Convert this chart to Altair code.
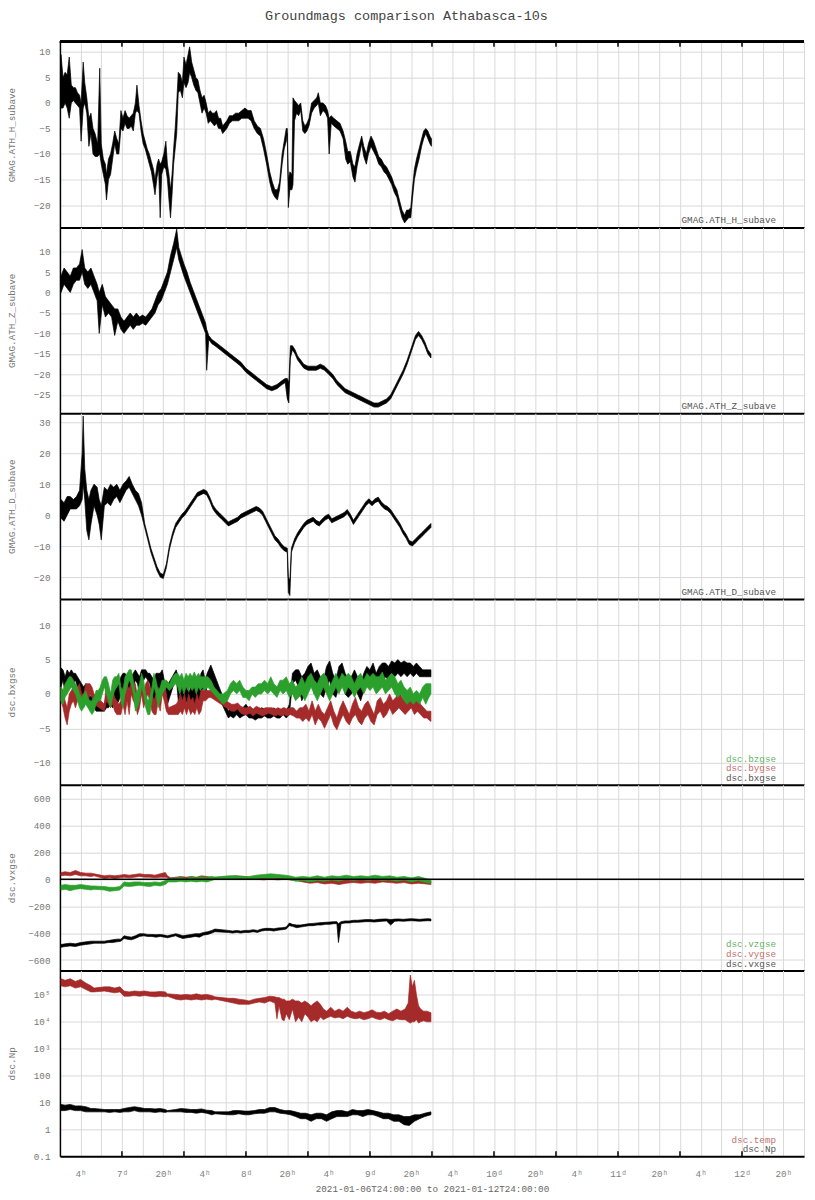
import altair as alt
import pandas as pd

FONT = "Liberation Mono"
W = 745
H = 186

# ---------------- x axis (hours after 2021-01-06 12:00) ----------------
grid_hours = [4, 8, 12, 16, 20, 24, 28, 32, 36, 40, 44, 48, 52, 56, 60, 64, 68, 72,
              76, 80, 84, 88, 92, 96, 100, 104, 108, 112, 116, 120, 124, 128, 132, 136, 140, 144]
label_hours = [4, 12, 20, 28, 36, 44, 52, 60, 68, 76, 84, 92, 100, 108, 116, 124, 132, 140]
label_texts = ["4ʰ", "7ᵈ", "20ʰ", "4ʰ", "8ᵈ", "20ʰ", "4ʰ", "9ᵈ", "20ʰ", "4ʰ", "10ᵈ", "20ʰ",
               "4ʰ", "11ᵈ", "20ʰ", "4ʰ", "12ᵈ", "20ʰ"]
major_tick_hours = [12, 24, 36, 48, 60, 72, 84, 96, 108, 120, 132]

# Each series: sample times (h), lower and upper envelope of the noisy trace.
# ---------------- Panel 1: GMAG.ATH_H_subave ----------------
h_t = [0.2, 0.6, 1.0, 1.4, 1.8, 2.2, 2.6, 3.0, 3.4, 3.8, 4.1, 4.5, 4.8, 5.2, 5.6, 6.0, 6.4, 6.8, 7.3, 7.7,
       8.0, 8.4, 8.8, 9.0, 9.4, 9.8, 10.2, 10.6, 11.0, 11.4, 11.8, 12.2, 12.6, 13.0, 13.4, 13.8, 14.2, 14.6,
       14.9, 15.3, 15.7, 16.1, 16.5, 16.9, 17.3, 17.7, 18.1, 18.4, 18.8, 19.1, 19.4, 19.7, 20.1, 20.5, 20.8,
       21.1, 21.4, 21.7, 22.0, 22.3, 22.6, 22.9, 23.3, 23.7, 24.0, 24.4, 24.8, 25.1, 25.5, 25.9, 26.3, 26.7,
       27.1, 27.5, 27.9, 28.3, 28.7, 29.1, 29.5, 29.9, 30.3, 30.7, 31.1, 31.5, 31.9, 32.3, 32.8, 33.4, 34.0,
       34.6, 35.2, 35.8, 36.4, 37.0, 37.6, 38.2, 38.8, 39.4, 40.0, 40.6, 41.1, 41.6, 42.1, 42.5, 43.0, 43.4,
       43.8, 44.0, 44.2, 44.5, 44.9, 45.1, 45.4, 45.8, 46.2, 46.6, 47.0, 47.4, 47.8, 48.2, 48.7, 49.2, 49.7,
       50.0, 50.4, 50.9, 51.4, 51.8, 52.1, 52.5, 53.0, 53.6, 54.2, 54.8, 55.3, 55.7, 56.2, 56.7, 57.1, 57.5,
       58.0, 58.4, 58.8, 59.3, 59.7, 60.2, 60.7, 61.2, 61.7, 62.2, 62.7, 63.2, 63.7, 64.2, 64.7, 65.2, 65.7,
       66.2, 66.7, 67.1, 67.5, 67.9, 68.2, 68.6, 69.0, 69.5, 70.0, 70.4, 70.8, 71.2, 71.6, 71.9]
h_lo = [-1, -1, 0, -1, -3, 0, 0.5, 0, -0.5, -1, -7.5, -1, 0, -2, -8.5, -6, -10, -10.5, -10.5, -10,
        -12, -14, -16, -19, -15, -14, -11, -8, -10, -10, -5, -5.5, -4, -5, -5, -4.5, -5.5, -2,
        -1.5, -2, -5.5, -8, -9, -10.5, -12, -13.5, -16, -18, -14.5, -13, -22.5, -14, -12.5, -13, -15,
        -19, -22.5, -18, -12, -9, -6, 2, 2.5, 1, 4, 3, 4, 6, 5, 3.5, 2.5, 2,
        0, -2, -1, -2, -4, -3.5, -4, -4.5, -4, -5, -5, -6, -5.5, -5, -4, -3.5, -3.5,
        -3.5, -3, -3, -3, -3.5, -5, -6, -6.5, -9, -12, -15.5, -17.5, -18.5, -19, -17, -12, -9,
        -7.5, -6, -20.5, -17, -17, -16, -3.5, -2, -2.5, -1.5, -5.5, -6, -5.5, -4.5, -2, -1, -0.5,
        0, -2.5, -1.5, -2, -3, -10, -4, -4.5, -5, -5.5, -7, -11, -12, -11.5, -14.5, -15.5, -12.5,
        -10, -8, -10.5, -12, -10, -8.5, -9.5, -10.5, -12, -12.5, -13.5, -14, -15, -16, -17.5, -18.5, -20.5,
        -22.5, -23.5, -23, -22.5, -22.5, -19, -15, -13, -11, -8.5, -7, -6, -7, -8, -8.5]
h_hi = [9.5, 5, 6, 5.5, 9, 3.5, 3, 3, 2, 1.5, 0, 8, 4, 1, -3, -2, -5, -6, -8, 6.8,
        -8, -11, -12, -14, -11, -10, -8, -5.5, -7, -8, -1.5, -3, -1.5, -2.5, -3, -2.5, -2, 0,
        3.5, -0.5, -3.5, -6, -7.5, -9, -10, -11.5, -13, -15, -12, -11, -12, -11.5, -10, -7.5, -12,
        -14, -17, -14, -9, -5, 0, 6, 5.5, 4, 9, 7.5, 9.5, 11, 8, 6.5, 5, 4.5,
        2.5, 1, 1.5, 0, -2, -1.5, -2, -2, -1.5, -3, -3, -4.5, -4, -3.5, -2.5, -2.5, -2,
        -2, -1.5, -1, -1.5, -1.5, -3.5, -4.5, -5, -7, -10, -13.5, -15.5, -17, -17, -15.5, -10, -7.5,
        -5, -5, -15, -13.5, -14, 1, 0.5, 0, -0.5, 0, -3.5, -4.5, -4, -3, 0, 0.5, 1,
        2, 0, 0, -0.5, -1.5, -3, -2.5, -3, -3.5, -4, -5.5, -7.5, -9.5, -9.5, -12, -12.5, -10,
        -8, -6.5, -8.5, -10, -8, -6.5, -7.5, -9, -10.5, -11, -12, -12.5, -13.5, -14.5, -16, -17, -19,
        -21, -22, -21, -21, -20.5, -17, -13, -11, -9, -7, -5.5, -5, -5.5, -6.5, -7]

# ---------------- Panel 2: GMAG.ATH_Z_subave ----------------
z_t = [0.2, 0.8, 1.4, 2.0, 2.6, 3.2, 3.8, 4.3, 4.8, 5.4, 6.0, 6.6, 7.2, 7.6, 8.2, 8.8, 9.4, 10.0, 10.6,
       11.2, 11.8, 12.4, 13.0, 13.6, 14.2, 14.8, 15.4, 16.0, 16.6, 17.2, 17.8, 18.4, 19.0, 19.6, 20.2, 20.8,
       21.4, 22.0, 22.6, 23.0, 23.5, 24.0, 24.6, 25.2, 25.8, 26.4, 27.0, 27.6, 28.2, 28.4, 28.8, 29.4, 30.0,
       31.0, 32.0, 33.0, 34.0, 35.0, 36.0, 37.0, 38.0, 39.0, 40.0, 41.0, 42.0, 43.0, 43.6, 44.0, 44.3, 44.6,
       45.0, 45.5, 46.0, 46.6, 47.2, 48.0, 48.8, 49.6, 50.4, 51.2, 52.0, 52.8, 53.6, 54.4, 55.2, 56.0, 56.8,
       57.6, 58.4, 59.2, 60.0, 60.8, 61.6, 62.4, 63.2, 64.0, 64.8, 65.6, 66.4, 67.2, 68.0, 68.8, 69.4, 70.0,
       70.6, 71.2, 71.8]
z_lo = [0, 2, 1, 0, 2, 3, 3, 5, 2, 1, 2, 0, -2, -10, -3, -6, -5, -6, -10.5,
        -7, -9, -10, -9, -8, -9, -8, -8, -7.5, -8, -7, -6, -5, -3, -2, 0, 2,
        5, 8, 11, 8, 6, 4, 2, 0, -2, -4, -6, -8, -10, -19, -11.5, -12.5, -13,
        -14, -15, -16, -17, -18, -19.5, -20.5, -21.5, -22.5, -23.5, -24, -23.5, -22.5, -22, -26, -27, -16,
        -14, -15, -16.5, -17.5, -18.5, -19, -19, -19, -18.5, -19, -20, -21, -22.5, -23.5, -24.5, -25, -25.5,
        -26, -26.5, -27, -27.5, -28, -28, -27.5, -27, -26, -24, -22, -20, -17.5, -14.5, -11.5, -10.5, -11.5,
        -13, -15, -16]
z_hi = [4, 6, 5, 4, 6, 6, 7, 10.5, 6, 5, 6, 4, 2, 0, 2, -1, -2, -3, -4,
        -4, -6, -7, -6, -5, -6, -5, -6, -5.5, -6, -5, -4, -2, 0, 1, 3, 5,
        9, 12, 15.5, 11, 9, 7, 5, 2.5, 0.5, -1.5, -3.5, -5.5, -7.5, -9, -10.5, -11.5, -12,
        -13, -14, -15, -16, -17, -18.5, -19.5, -20.5, -21.5, -22.5, -23, -22.5, -21.5, -21, -21, -22, -13,
        -13, -14, -15.5, -16.5, -17.5, -18, -18, -18, -17.5, -18, -19, -20, -21.5, -22.5, -23.5, -24, -24.5,
        -25, -25.5, -26, -26.5, -27, -27, -26.5, -26, -25, -23, -21, -19, -16.5, -13.5, -10.5, -9.5, -10.5,
        -12, -14, -15]

# ---------------- Panel 3: GMAG.ATH_D_subave ----------------
d_t = [0.2, 0.8, 1.4, 2.0, 2.6, 3.2, 3.8, 4.3, 4.5, 4.8, 5.2, 5.6, 6.0, 6.6, 7.2, 7.6, 8.0, 8.6, 9.2, 9.8,
       10.4, 11.0, 11.6, 12.2, 12.8, 13.4, 14.0, 14.6, 15.2, 15.8, 16.4, 17.0, 17.6, 18.2, 18.8, 19.4, 20.0,
       20.6, 21.2, 21.8, 22.4, 23.0, 23.6, 24.2, 24.8, 25.4, 26.0, 26.6, 27.2, 27.8, 28.4, 29.0, 29.6, 30.2,
       30.8, 31.4, 32.0, 32.6, 33.2, 33.8, 34.4, 35.0, 35.6, 36.2, 36.8, 37.4, 38.0, 38.6, 39.2, 39.8, 40.4,
       41.0, 41.6, 42.2, 42.8, 43.4, 44.0, 44.2, 44.5, 44.8, 45.4, 46.0, 46.6, 47.2, 47.8, 48.4, 49.0, 49.6,
       50.2, 50.8, 51.4, 52.0, 52.6, 53.2, 53.8, 54.4, 55.0, 55.6, 56.2, 56.8, 57.4, 58.0, 58.6, 59.2, 59.8,
       60.4, 61.0, 61.6, 62.2, 62.8, 63.4, 64.0, 64.6, 65.2, 65.8, 66.4, 67.0, 67.6, 68.2, 68.8, 69.4, 70.0,
       70.6, 71.2, 71.8]
d_lo = [-1, -2, 0, 2, 2, 2, 3, 5, 10, 5, -5, -8, -3, 3, 0, -3, -8, 3, 4, 3,
        5, 6, 4, 6, 8, 9, 7, 5, 3, 0, -4, -8, -12, -15, -18, -20, -20.5,
        -17, -11, -7, -4, -2.5, -1, 0, 1.5, 3, 4.5, 6, 6.5, 7, 6.5, 4.5, 2, 0.5,
        -0.5, -1.5, -2.5, -3.5, -3, -2.5, -2, -1, -0.5, 0, 0.5, 1, 1.5, 1, 0, -2, -4,
        -6, -8, -9, -10.5, -11.5, -12, -25, -26, -12, -9, -7, -5.5, -4, -3, -2.5, -2, -3,
        -3.5, -2.5, -1.5, -1, -2.5, -2, -1.5, -1, -0.5, 0.5, -1, -3, -1.5, 0, 1.5, 3, 4,
        3, 4, 4.5, 3, 2, 1.5, 0.5, -1, -2.5, -4, -6, -7.5, -9.5, -10, -9, -8, -7,
        -6, -5, -4]
d_hi = [5, 4, 6, 6, 5, 6, 8, 20, 32, 15, 8, 5, 8, 10, 9, 5, 3, 9, 8, 10,
        9, 10, 8, 10, 11, 12.5, 10, 8, 7, 4, -2.7, -6.7, -10.7, -13.7, -16.7, -18.7, -19.2,
        -15.7, -9.7, -5.7, -2.7, -1.2, 0.3, 1.3, 2.8, 4.3, 5.8, 7.3, 7.8, 8.3, 7.8, 5.8, 3.3, 1.8,
        0.8, -0.2, -1.2, -2.2, -1.7, -1.2, -0.7, 0.3, 0.8, 1.3, 1.8, 2.3, 2.8, 2.3, 1.3, -0.7, -2.7,
        -4.7, -6.7, -7.7, -9.2, -10.2, -10.7, -20, -21, -10.7, -7.7, -5.7, -4.2, -2.7, -1.7, -1.2, -0.7, -1.7,
        -2.2, -1.2, -0.2, 0.3, -1.2, -0.7, -0.2, 0.3, 0.8, 1.8, 0.3, -1.7, -0.2, 1.3, 2.8, 4.3, 5.3,
        4.3, 5.3, 5.8, 4.3, 3.3, 2.8, 1.8, 0.3, -1.2, -2.7, -4.7, -6.2, -8.2, -8.7, -7.7, -6.7, -5.7,
        -4.7, -3.7, -2.7]

# ---------------- Panel 4: dsc.bxgse / bygse / bzgse ----------------
bx_t = [0.2, 0.6, 1.0, 1.4, 1.8, 2.2, 2.6, 3.0, 3.4, 3.8, 4.2, 4.6, 5.0, 5.4, 5.8, 6.2, 6.6, 7.0, 8.6, 9.0,
        9.4, 9.8, 10.2, 10.6, 11.0, 11.4, 11.8, 12.2, 12.6, 13.0, 13.4, 13.8, 14.2, 14.6, 15.0, 15.4, 15.8,
        16.2, 16.6, 17.0, 17.4, 17.8, 18.2, 18.6, 19.0, 19.4, 19.8, 20.2, 20.6, 22.5, 22.9, 23.3, 23.7, 24.1,
        24.5, 24.9, 25.3, 25.7, 26.1, 26.5, 26.9, 27.3, 27.7, 28.1, 28.5, 29.2, 32.6, 33.0, 33.6, 34.2, 34.8,
        35.4, 36.0, 36.6, 37.2, 37.8, 38.4, 39.0, 39.6, 40.2, 40.8, 41.4, 42.0, 42.6, 43.2, 43.8, 44.4, 45.0,
        45.6, 46.2, 46.8, 47.4, 48.0, 48.6, 49.2, 49.8, 50.4, 51.0, 51.6, 52.2, 52.8, 53.4, 54.0, 54.6, 55.2,
        55.8, 56.4, 57.0, 57.6, 58.2, 58.8, 59.4, 60.0, 60.6, 61.2, 61.8, 62.4, 63.0, 63.6, 64.2, 64.8, 65.4,
        66.0, 66.6, 67.2, 67.8, 68.4, 69.0, 69.6, 70.2, 70.8, 71.4, 71.8]
bx_lo = [1, 2, 0, 1, 1.5, 2, 1.5, 2, 1, 0, -1, -1, -0.5, -1.5, -2, -1.5, -2, -2.5, -2.5, -2,
         -2, -1.5, -2, -1, -1.5, -1, 0, 0.5, 1, 0.5, 1, 0, 1, 2, 1.5, 0, 2,
         2, 2.5, 2, 1.5, 0, -1, 0, 1, 0, 1.5, 0, -2, 2.5, -1, -2, -1, -2,
         -1, -2, -2.5, -1, -2, -1, -2, 0, 1, 0, 1, 2, -3.5, -3.2, -3.5, -3, -3.5,
         -3.2, -3, -3.5, -3.5, -3.8, -3.5, -3.5, -3.2, -3.5, -3.5, -3.2, -3.5, -3.5, -3, -3.5, -3, 1.5,
         2, 1, -1, 0, 1, 2, 0, 1, 0, -0.5, 1, 2, 0, -0.5, 1, 2, 0,
         -0.5, 0, 1, 0, -1, 0.5, 1.5, 1, 2, 0.5, 2, 1.5, 2.5, 2, 3, 2.5, 3,
         2.5, 3, 2.5, 3, 2.5, 3, 2.5, 2.5, 2.5, 2.5, 2.5]
bx_hi = [3.8, 3.5, 2.5, 3.5, 3, 3.5, 3, 3, 2.5, 2, 1.5, 1, 1.5, 0.5, -0.5, 0, -1, -1.5, -1.5, 0,
         0.5, 0, 0.5, 1.5, 1, 1.5, 2.5, 3, 3, 2.5, 3, 2.5, 3, 3.5, 3, 2.5, 3.5,
         3.5, 3.5, 3, 3, 2.5, 2, 3, 3, 3, 3.5, 2, 1, 3.5, 2.5, 1, 2, 1,
         2.5, 0, 1, 2, 1.5, 2.5, 1, 3, 3.5, 2, 3, 4.2, -2.5, -2, -2.2, -2, -2.5,
         -2, -1.5, -2.2, -2.5, -2.5, -2.5, -2, -2.2, -2.5, -2.5, -2, -2.5, -2.5, -2, -2.5, -1.5, 3,
         3.5, 3.5, 2.5, 3, 4, 4.5, 3, 3.5, 2.5, 2, 4, 4.8, 3, 2, 4, 4.5, 3,
         2, 2.5, 3.5, 2.5, 1.5, 3, 4, 3.5, 4.5, 3, 4, 4.5, 4.5, 4, 4.8, 4.5, 5,
         4.5, 4.8, 4.5, 4.5, 4, 4.5, 4, 3.5, 3.5, 3.5, 3.5]
by_t = [0.2, 0.6, 1.0, 1.4, 1.8, 2.2, 2.6, 3.0, 3.4, 3.8, 4.2, 4.6, 5.0, 5.4, 5.8, 6.2, 6.6, 8.6, 9.0, 9.4,
        9.8, 10.2, 10.6, 11.0, 11.4, 11.8, 12.2, 12.6, 13.0, 13.4, 13.8, 14.2, 14.6, 15.0, 15.4, 15.8, 16.2,
        16.6, 17.0, 17.4, 17.8, 18.2, 18.6, 19.0, 19.4, 19.8, 20.2, 20.6, 21.0, 22.5, 22.9, 23.3, 23.7, 24.1,
        24.5, 24.9, 25.3, 25.7, 26.1, 26.5, 26.9, 27.3, 27.7, 28.2, 28.8, 29.2, 32.6, 33.2, 33.8, 34.4, 35.0,
        35.6, 36.2, 36.8, 37.4, 38.0, 38.6, 39.2, 39.8, 40.4, 41.0, 41.6, 42.2, 42.8, 43.4, 44.0, 44.6, 45.2,
        45.8, 46.4, 47.0, 47.6, 48.2, 48.8, 49.4, 50.0, 50.6, 51.2, 51.8, 52.4, 53.0, 53.6, 54.2, 54.8, 55.4,
        56.0, 56.6, 57.2, 57.8, 58.4, 59.0, 59.6, 60.2, 60.8, 61.4, 62.0, 62.6, 63.2, 63.8, 64.4, 65.0, 65.6,
        66.2, 66.8, 67.4, 68.0, 68.6, 69.2, 69.8, 70.4, 71.0, 71.8]
by_lo = [-1, -2, -3.5, -4.5, -2.5, -1.5, -1, -2, -1, -0.5, -1.5, -2, 0, -1, 0, -0.5, -1.5, -2.5, -1, -1.5,
         -2, -1.5, -2.5, -3, -3, -3, -1.5, -3, -1, -3, 0, -1, -1.5, -3, -2, 0, -2,
         -1, 0, -1, -2.5, -3, -3, -1, -2.5, 0, -1, -2.5, -3, -3, -3, -2.5, -3, -2,
         -3, -2, -3, -2.5, -3, -2, -3, -2.5, -1, -1, -0.5, -0.5, -2.2, -2.5, -2.5, -2.2, -2.8,
         -3, -3, -2.8, -3.2, -2.8, -3, -3.2, -3, -2.8, -3, -3.2, -3, -3.2, -3, -3.2, -3, -3.2,
         -3.5, -3.5, -4, -3.5, -4, -3, -4.5, -3.5, -4, -5, -4, -3, -4.5, -5.2, -4, -3, -4,
         -4.5, -3.5, -3, -4, -4.5, -3.5, -3, -4, -4.5, -3, -2.5, -3.5, -3, -2, -3, -2.5, -2,
         -2.5, -3, -2.5, -2, -3, -2.5, -3, -3.5, -3.5, -4]
by_hi = [1, 0.5, -1, -2, 0, 0.5, 1, 0, 1, 1.5, 0, 0, 1.5, 1.5, 1.5, 1, 0, -1.5, 1.5, 1,
         0, 0.5, -0.5, -1, -1.5, -1, 1, 0, 1.5, 0.5, 2, 1.5, 1.5, -0.5, 1, 2, 0,
         1.5, 2, 1, 0, -1, 0, 1, 0, 2, 1.5, 0, -2, -1.5, -1, 0, -1, 0,
         -1.5, 0, -1, -0.5, -1.5, 0, -1, 0.5, 0.5, 0.5, 0.5, 0.5, -1.2, -1.5, -1.5, -1.3, -1.8,
         -2, -2, -1.8, -2.2, -1.8, -2, -2.2, -2, -2, -2, -2.2, -2, -2.2, -2, -2.2, -2, -2,
         -2.5, -2, -2, -1.5, -2.5, -1, -2.5, -1.5, -2.5, -3, -2, -1, -2.5, -3.5, -2, -1, -2,
         -3, -1.5, -0.5, -2, -2.5, -1.5, -1, -2, -3, -1, -0.5, -1.5, -1, 0, -1, -0.5, 0.5,
         -0.5, -1, -0.5, 0, -1, -0.5, -1.5, -2, -2.5, -2.5]
bz_t = [0.2, 0.6, 1.0, 1.4, 1.8, 2.2, 2.6, 3.0, 3.4, 3.8, 4.2, 4.6, 5.0, 5.4, 5.8, 6.2, 6.6, 7.0, 7.4, 7.8,
        8.2, 8.6, 9.0, 9.4, 9.8, 10.2, 10.6, 11.0, 11.4, 11.8, 12.2, 12.6, 13.0, 13.4, 13.8, 14.2, 14.6,
        15.0, 15.4, 15.8, 16.2, 16.6, 17.0, 17.4, 17.8, 18.2, 18.6, 19.0, 19.4, 19.8, 20.2, 20.6, 21.2, 21.8,
        22.4, 22.8, 23.2, 23.6, 24.0, 24.4, 24.8, 25.2, 25.6, 26.0, 26.4, 26.8, 27.2, 27.6, 28.0, 28.6, 29.2,
        29.8, 30.4, 31.0, 31.6, 32.4, 33.0, 33.6, 34.2, 34.8, 35.4, 36.0, 36.6, 37.2, 37.8, 38.4, 39.0, 39.6,
        40.2, 40.8, 41.4, 42.0, 42.6, 43.2, 43.8, 44.4, 45.0, 45.6, 46.2, 46.8, 47.4, 48.0, 48.6, 49.2, 49.8,
        50.4, 51.0, 51.6, 52.2, 52.8, 53.4, 54.0, 54.6, 55.2, 55.8, 56.4, 57.0, 57.6, 58.2, 58.8, 59.4, 60.0,
        60.6, 61.2, 61.8, 62.4, 63.0, 63.6, 64.2, 64.8, 65.4, 66.0, 66.6, 67.2, 67.8, 68.4, 69.0, 69.6, 70.2,
        70.8, 71.4, 71.8]
bz_lo = [-1, -1.5, -0.5, 0, 0.5, 1, 0.5, 0, -1, -2, -2.5, -2, -1.5, -2, -2.5, -3, -2.5, -1.5, -1, -1,
         0, 1, 0, -1, -2, -0.5, 0.5, 1, 1.5, -1, -2, 0, 1, 2, 1.5, 0, -2.5,
         -2, -1, 1, 0, -2, -3, -3, -1, 1, 0, -2, -1, 0, 0.5, 1, 0.5, 1,
         1.5, 1, 0, 1, 0, 1, 0.5, 1, 0.5, 1, 0, 1, 0.5, 1, 0.5, 1, 0.5,
         0, -0.5, -1, -1.5, -1, 0, 0.5, 0, 0.5, -0.5, -0.5, -1, 0, -0.5, 0, 0, 0.5,
         0, 0.5, 0, -0.5, 0.5, 0, 0.5, -0.5, 0, -1, -0.5, 0, -1, 0, 1, 0, -1,
         0, 1, 0, -1, 0, 1, 0, 1, 0, 1, 0.5, -0.5, 0.5, 1, 0, 1, 0.5,
         1, 0, 0.5, 1, 0, 0.5, 1, 0, -0.5, 0, -1, -1.5, -1, -1.5, -1, -1.5, -0.5,
         -1.5, -0.5, 0]
bz_hi = [1, 0.5, 1.5, 2, 2.5, 2.5, 2, 1.5, 1, 0, -0.5, 0, 0.5, -0.5, -1, -1, -0.5, 0.5, 0.5, 1,
         2, 2.5, 2.5, 1.5, 0, 2, 2.5, 2.5, 3, 1, 0.5, 2.5, 3, 3.5, 3.5, 2, 0,
         0.5, 1.5, 3, 2, 0, -1, -0.5, 1, 3, 2, 0.5, 1, 2, 2, 2, 1.5, 2.5,
         3, 3, 2.5, 3, 2, 3, 2.5, 3, 2.5, 3.2, 2.5, 3, 2.5, 2.5, 2.5, 2.5, 2,
         1, 0.5, 0, 0, 0.5, 1.5, 2, 1.5, 2, 1, 0.5, 0.5, 1, 1, 1.5, 1.5, 2,
         1.5, 2.5, 1.5, 1, 2, 2, 2.5, 1.5, 2, 1, 1.5, 2.5, 1.5, 2.5, 3, 2, 1.5,
         2.5, 3, 2.5, 1, 2, 3, 2, 3, 2.5, 3, 2.5, 1.5, 2.5, 3, 2, 3, 2.5,
         3, 2.5, 2.5, 3.2, 2, 2.5, 3, 2.5, 1.5, 2, 1, 0.5, 1, 0, 0.5, 0, 1,
         1.5, 1.5, 1.5]

# ---------------- Panel 5: dsc.vxgse / vygse / vzgse ----------------
vx_t = [0.2, 1.0, 2.0, 3.0, 4.0, 5.0, 6.0, 6.6, 8.6, 9.4, 10.2, 11.0, 11.8, 12.4, 13.0, 13.8, 14.6, 15.4,
        16.2, 17.0, 17.8, 18.6, 19.4, 20.2, 20.8, 22.4, 23.0, 23.8, 24.6, 25.4, 26.2, 27.0, 27.8, 28.6, 29.4,
        30.0, 32.6, 33.4, 34.2, 35.0, 35.8, 36.6, 37.4, 38.2, 39.0, 39.8, 40.6, 41.4, 42.2, 43.0, 43.8, 44.4,
        45.0, 45.8, 46.6, 47.4, 48.2, 49.0, 49.8, 50.6, 51.4, 52.2, 53.0, 53.6, 53.9, 54.4, 55.2, 56.0, 56.8,
        57.6, 58.4, 59.2, 60.0, 60.8, 61.6, 62.4, 63.2, 64.0, 64.8, 65.6, 66.4, 67.2, 68.0, 68.8, 69.6, 70.4,
        71.2, 71.8]
vx_lo = [-505, -500, -495, -500, -490, -485, -480, -475, -475, -470, -470, -465, -460, -440, -445, -450, -440,
         -425, -420, -425, -425, -430, -425, -430, -435, -420, -430, -440, -435, -430, -425, -430, -415, -410,
         -400, -390, -395, -400, -395, -400, -395, -395, -390, -395, -385, -380, -380, -385, -378, -375, -370,
         -345, -350, -360, -355, -350, -345, -345, -340, -340, -335, -335, -330, -330, -470, -330, -325, -325,
         -320, -320, -318, -315, -315, -318, -315, -312, -310, -340, -312, -310, -312, -310, -308, -310, -312,
         -310, -308, -310]
vx_hi = [-485, -480, -475, -480, -470, -465, -460, -460, -460, -455, -450, -445, -445, -420, -425, -430, -420,
         -405, -405, -410, -410, -412, -410, -415, -420, -405, -410, -420, -415, -410, -405, -405, -395, -390,
         -380, -370, -380, -385, -380, -385, -380, -380, -375, -380, -370, -365, -365, -368, -362, -360, -355,
         -325, -335, -340, -340, -335, -330, -328, -325, -322, -320, -318, -315, -315, -330, -315, -310, -310,
         -305, -305, -302, -300, -300, -302, -298, -296, -295, -300, -296, -295, -298, -295, -293, -295, -298,
         -295, -293, -295]
vy_t = [0.2, 1.0, 2.0, 3.0, 4.0, 5.0, 6.0, 6.6, 8.6, 9.6, 10.6, 11.6, 12.4, 13.4, 14.4, 15.4, 16.4, 17.4,
        18.4, 19.4, 20.4, 20.8, 21.4, 22.4, 23.4, 24.4, 25.4, 26.4, 27.4, 28.4, 29.4, 30.0, 32.6, 34.0, 35.8,
        36.6, 38.0, 39.4, 40.8, 42.2, 43.6, 44.4, 45.6, 47.0, 48.4, 49.8, 51.2, 52.6, 54.0, 55.4, 56.8, 58.2,
        59.6, 61.0, 62.4, 63.8, 65.2, 66.6, 68.0, 69.4, 70.8, 71.8]
vy_lo = [25, 30, 25, 35, 25, 25, 20, 25, 5, 10, 5, 10, 15, 10, 15, 20, 15, 15,
         10, 15, 15, 10, 0, -5, 0, -5, 0, 0, 5, 0, 0, 5, 5, 5, 5,
         0, 0, -5, 0, -5, 0, -5, -10, -20, -30, -25, -35, -30, -40, -30, -25, -30,
         -25, -30, -20, -25, -30, -25, -35, -30, -35, -40]
vy_hi = [50, 55, 50, 65, 50, 45, 45, 40, 25, 30, 25, 30, 35, 30, 35, 40, 35, 35,
         30, 40, 50, 25, 10, 15, 20, 15, 20, 15, 25, 20, 15, 15, 20, 25, 20,
         15, 15, 10, 15, 10, 15, 10, 5, 5, 0, 0, -5, 0, -5, 0, 5, 0,
         0, 0, 5, 0, 0, 5, -5, 0, -10, -15]
vz_t = [0.2, 1.0, 2.0, 3.0, 4.0, 5.0, 6.0, 6.6, 8.6, 9.6, 10.6, 11.6, 12.4, 13.4, 14.4, 15.4, 16.4, 17.4,
        18.4, 19.4, 20.4, 21.0, 22.4, 23.4, 24.4, 25.4, 26.4, 27.4, 28.4, 29.4, 30.0, 32.6, 34.0, 35.8, 36.6,
        38.0, 39.4, 40.8, 42.2, 43.6, 44.4, 45.6, 47.0, 48.4, 49.8, 51.2, 52.6, 54.0, 55.4, 56.8, 58.2, 59.6,
        61.0, 62.4, 63.8, 65.2, 66.6, 68.0, 69.4, 70.8, 71.8]
vz_lo = [-80, -75, -85, -75, -70, -75, -80, -75, -80, -90, -85, -80, -50, -55, -50, -45, -50, -55,
         -45, -50, -40, -20, -20, -15, -20, -15, -20, -15, -20, -10, 0, 5, 0, 5, 0,
         5, 10, 5, 10, 5, 0, -15, -10, -20, -10, -15, -5, -15, 0, -10, 0, -10,
         0, -10, -5, -15, -5, -20, -10, -25, -30]
vz_hi = [-45, -40, -45, -45, -40, -45, -50, -50, -55, -60, -60, -55, -20, -25, -20, -20, -25, -25,
         -20, -25, -10, 5, 10, 15, 5, 20, 10, 20, 10, 20, 15, 25, 25, 20, 20,
         30, 35, 40, 35, 30, 25, 15, 20, 15, 25, 15, 25, 20, 30, 20, 25, 20,
         30, 20, 25, 15, 20, 10, 20, 5, -5]

# ---------------- Panel 6: dsc.Np / dsc.temp ----------------
np_t = [0.2, 1.0, 2.0, 3.0, 4.0, 5.0, 6.0, 6.6, 8.6, 9.6, 10.6, 11.6, 12.4, 13.4, 14.4, 15.4, 16.4, 17.4,
        18.4, 19.4, 20.4, 20.8, 22.4, 23.4, 24.4, 25.4, 26.4, 27.4, 28.4, 29.4, 30.0, 32.6, 33.6, 34.6, 35.8,
        36.6, 37.6, 38.6, 39.6, 40.6, 41.6, 42.6, 43.6, 44.6, 45.6, 46.6, 47.6, 48.6, 49.6, 50.6, 51.6, 52.6,
        53.6, 54.6, 55.6, 56.6, 57.6, 58.6, 59.6, 60.6, 61.6, 62.6, 63.6, 64.6, 65.6, 66.6, 67.6, 68.6, 69.6,
        70.6, 71.8]
np_lo = [5, 5, 5.5, 5, 5, 4.5, 4.5, 4.5, 4.5, 4.3, 4.5, 4.3, 4.5, 4.5, 5, 4.5, 4.5, 4.5,
         4.3, 4.5, 4.3, 4.5, 4.5, 4.5, 4.3, 4.3, 4, 4.3, 4, 3.5, 3.8, 3.5, 3.5, 3.8, 3.5,
         3.5, 3.8, 4, 4, 4.5, 4.5, 4, 3.8, 3.5, 3, 2.5, 2.5, 2, 2.5, 2.5, 2, 2.5,
         3, 3, 3, 3.5, 3.5, 3, 3.5, 3.5, 3, 2.5, 2.5, 2, 2, 1.5, 1.4, 2, 2.5,
         3, 3.5]
np_hi = [8.5, 8, 8.5, 7.5, 7.5, 7, 6, 6, 5.5, 5.5, 5.5, 5.5, 6, 6.5, 7, 6.5, 6, 6,
         5.8, 6, 5.5, 5, 5.5, 6, 5.8, 5.5, 5.5, 5.8, 5.2, 5, 4.5, 4.5, 5, 5, 4.8,
         4.8, 5, 5.5, 5.5, 6.5, 6.5, 5.5, 5, 5, 4.5, 4, 4, 3.5, 4, 4, 3.5, 4.5,
         5, 5, 4.5, 5.5, 5, 5, 5.5, 5, 4.5, 4, 4, 3.5, 3.5, 3, 3, 3.5, 3.5,
         4, 4.5]
tp_t = [0.2, 1.0, 2.0, 3.0, 4.0, 5.0, 6.0, 6.6, 8.6, 9.6, 10.6, 11.6, 12.4, 13.4, 14.4, 15.4, 16.4, 17.4,
        18.4, 19.4, 20.4, 20.8, 22.4, 23.4, 24.4, 25.4, 26.4, 27.4, 28.4, 29.4, 30.0, 32.6, 33.6, 34.6, 35.8,
        36.6, 37.6, 38.6, 39.6, 40.6, 41.6, 42.0, 42.4, 43.0, 43.4, 43.8, 44.4, 45.0, 45.6, 46.2, 46.8, 47.4,
        48.0, 48.6, 49.2, 49.8, 50.4, 51.0, 51.6, 52.4, 53.2, 54.0, 54.8, 55.6, 56.4, 57.2, 58.0, 58.8, 59.6,
        60.4, 61.2, 62.0, 62.8, 63.6, 64.4, 65.2, 66.0, 66.8, 67.4, 67.8, 68.2, 68.6, 69.0, 69.4, 69.8, 70.4,
        71.0, 71.8]
tp_lo = [2.2e5, 2.0e5, 2.2e5, 1.8e5, 2.0e5, 1.6e5, 1.3e5, 1.3e5, 1.4e5, 1.3e5, 1.2e5, 1.3e5, 9e4, 9e4,
         9.5e4, 9e4, 9.5e4, 9e4, 8.5e4, 9e4, 8.5e4, 9e4, 7e4, 6.5e4, 7e4, 6.5e4, 7e4, 6.5e4, 7e4, 6.5e4,
         7e4, 5.5e4, 5e4, 4.5e4, 4.5e4, 4.5e4, 5e4, 5.5e4, 5e4, 6e4, 5e4, 1.3e4, 4e4, 1.2e4, 1.1e4, 2e4,
         1.2e4, 3e4, 1.0e4, 1.5e4, 1.0e4, 2e4, 1.5e4, 1.0e4, 1.2e4, 1.0e4, 1.5e4, 1.2e4, 1.4e4, 1.6e4,
         1.4e4, 1.5e4, 1.3e4, 1.6e4, 1.4e4, 1.3e4, 1.4e4, 1.2e4, 1.3e4, 1.5e4, 1.3e4, 1.2e4, 1.4e4, 1.2e4,
         1.1e4, 1.3e4, 1.2e4, 1.2e4, 1.0e4, 9e3, 1.0e4, 1.0e4, 1.2e4, 9e3, 1.0e4, 1.1e4, 1.0e4, 1.0e4]
tp_hi = [4.0e5, 3.5e5, 4.0e5, 3.2e5, 3.8e5, 2.8e5, 2.2e5, 1.8e5, 2.0e5, 2.0e5, 1.8e5, 2.0e5, 1.4e5, 1.3e5,
         1.4e5, 1.35e5, 1.4e5, 1.3e5, 1.3e5, 1.35e5, 1.3e5, 1.1e5, 1.05e5, 1.0e5, 1.05e5, 1.0e5, 1.1e5, 1.0e5,
         1.05e5, 9.5e4, 8.5e4, 7.5e4, 7.5e4, 7e4, 6.5e4, 6e4, 7e4, 7.5e4, 8e4, 9e4, 8.5e4, 8e4, 8e4, 7e4,
         7e4, 6e4, 6e4, 7e4, 6e4, 6e4, 5e4, 6e4, 5e4, 4e4, 5e4, 6e4, 4.5e4, 3e4, 2.5e4, 3.5e4, 2.5e4, 3e4,
         2.5e4, 3.5e4, 2.5e4, 2.2e4, 2.5e4, 2.2e4, 2.4e4, 2.8e4, 2.3e4, 2.2e4, 2.5e4, 2.0e4, 2.5e4, 3e4,
         2.5e4, 3e4, 5e4, 5.5e5, 2e5, 3.5e5, 1e5, 4e4, 3e4, 2.5e4, 2.5e4, 2.2e4]

BLACK = "#000000"
RED = "#a52a2a"
GREEN = "#2ca02c"
GRID = "#d9d9d9"


def label_chain(values, texts):
    expr = "''"
    for val, txt in zip(reversed(values), reversed(texts)):
        expr = f"abs(datum.value - {val}) < {abs(val) * 1e-3 + 1e-9} ? '{txt}' : " + expr
    return expr


x_label_expr = label_chain(label_hours, label_texts)


def panel(series, ydomain, yvals, ytitle, legend_texts, legend_colors,
          log=False, ylabels=None, bottom=False, top=False, zero=False):
    xaxis = alt.Axis(values=grid_hours, grid=True, gridColor=GRID, gridWidth=1,
                     ticks=False, domain=True, domainColor="#000000", domainWidth=2,
                     labels=bottom, labelExpr=x_label_expr, labelFont=FONT, labelFontSize=9.3,
                     labelColor="#808080", labelPadding=13, labelFlush=False, labelOverlap=False,
                     title="2021-01-06T24:00:00 to 2021-01-12T24:00:00" if bottom else None,
                     titleFont=FONT, titleFontSize=9.3, titleFontWeight="normal",
                     titleColor="#666666", titlePadding=6)
    yaxis_kw = dict(values=yvals, grid=True, gridColor=GRID, gridWidth=1, ticks=False,
                    domain=True, domainColor="#000000", domainWidth=1.5,
                    labelFont=FONT, labelFontSize=9.3, labelColor="#777777", labelPadding=10,
                    labelOverlap=False, labelFlush=False,
                    minExtent=34, maxExtent=34, title=ytitle, titleFont=FONT, titleFontSize=9.3,
                    titleFontWeight="normal", titleColor="#777777", titlePadding=9)
    if ylabels is not None:
        yaxis_kw["labelExpr"] = label_chain(yvals, ylabels)
    yaxis = alt.Axis(**yaxis_kw)
    if log:
        yscale = alt.Scale(domain=ydomain, type="log", nice=False)
    else:
        yscale = alt.Scale(domain=ydomain, nice=False, zero=False)
    xscale = alt.Scale(domain=[0, 144], nice=False, zero=False)

    layers = []
    for ts, lo, hi, col in series:
        df = pd.DataFrame({"t": ts, "lo": lo, "hi": hi})
        layers.append(alt.Chart(df).mark_area(
            color=col, stroke=col, strokeWidth=0.7, opacity=1, clip=True, interpolate="linear"
        ).encode(
            x=alt.X("t:Q", scale=xscale, axis=xaxis),
            y=alt.Y("lo:Q", scale=yscale, axis=yaxis),
            y2=alt.Y2("hi:Q"),
        ))
    if zero:
        zdf = pd.DataFrame({"lo": [0]})
        layers.append(alt.Chart(zdf).mark_rule(color="#000000", strokeWidth=1.5).encode(
            y=alt.Y("lo:Q", scale=yscale, axis=yaxis)))
    n = len(legend_texts)
    for i, (txt, col) in enumerate(zip(legend_texts, legend_colors)):
        ypix = H - 7 - 9.6 * (n - 1 - i)
        layers.append(
            alt.Chart(pd.DataFrame({"txt": [txt]})).mark_text(
                align="right", baseline="middle", font=FONT, fontSize=9.3, color=col
            ).encode(text="txt:N", x=alt.value(W - 28), y=alt.value(ypix))
        )
    tdf = pd.DataFrame({"t": major_tick_hours})
    if bottom:
        layers.append(alt.Chart(tdf).mark_rule(color="#000000", strokeWidth=1.5).encode(
            x=alt.X("t:Q", scale=xscale, axis=xaxis), y=alt.value(H - 5), y2=alt.value(H)))
    if top:
        layers.append(alt.Chart(tdf).mark_rule(color="#000000", strokeWidth=1.5).encode(
            x=alt.X("t:Q", scale=xscale, axis=xaxis), y=alt.value(0), y2=alt.value(5)))
        layers.append(alt.Chart(tdf).mark_rule(color="#000000", strokeWidth=2).encode(
            x=alt.value(0), x2=alt.value(W), y=alt.value(0)))
    return alt.layer(*layers).properties(width=W, height=H)


p1 = panel([(h_t, h_lo, h_hi, BLACK)], [-24.4, 12],
           [-20, -15, -10, -5, 0, 5, 10], "GMAG.ATH_H_subave",
           ["GMAG.ATH_H_subave"], ["#555555"], top=True)
p2 = panel([(z_t, z_lo, z_hi, BLACK)], [-29.5, 15.9],
           [-25, -20, -15, -10, -5, 0, 5, 10], "GMAG.ATH_Z_subave",
           ["GMAG.ATH_Z_subave"], ["#555555"])
p3 = panel([(d_t, d_lo, d_hi, BLACK)], [-27.1, 32.9],
           [-20, -10, 0, 10, 20, 30], "GMAG.ATH_D_subave",
           ["GMAG.ATH_D_subave"], ["#555555"])
p4 = panel([(bx_t, bx_lo, bx_hi, BLACK), (by_t, by_lo, by_hi, RED), (bz_t, bz_lo, bz_hi, GREEN)],
           [-13.2, 13.8], [-10, -5, 0, 5, 10], "dsc.bxgse",
           ["dsc.bzgse", "dsc.bygse", "dsc.bxgse"], ["#66b366", "#c27070", "#555555"])
p5 = panel([(vx_t, vx_lo, vx_hi, BLACK), (vy_t, vy_lo, vy_hi, RED), (vz_t, vz_lo, vz_hi, GREEN)],
           [-678, 701], [-600, -400, -200, 0, 200, 400, 600], "dsc.vxgse",
           ["dsc.vzgse", "dsc.vygse", "dsc.vxgse"], ["#66b366", "#c27070", "#555555"], zero=True)
p6 = panel([(np_t, np_lo, np_hi, BLACK), (tp_t, tp_lo, tp_hi, RED)], [0.1, 8.1e5],
           [0.1, 1, 10, 100, 1000, 10000, 100000], "dsc.Np",
           ["dsc.temp", "dsc.Np"], ["#c27070", "#555555"], log=True,
           ylabels=["0.1", "1", "10", "100", "10³", "10⁴", "10⁵"], bottom=True)

chart = alt.vconcat(p1, p2, p3, p4, p5, p6, spacing=0).resolve_scale(y="independent").properties(
    title=alt.TitleParams("Groundmags comparison Athabasca-10s", font=FONT, fontSize=13.5,
                          fontWeight="normal", color="#444444", anchor="middle", offset=18),
    padding={"left": 0, "top": 0, "right": 2, "bottom": 2},
).configure_view(stroke=None).configure_concat(spacing=0)

chart.save("out.html", embed_options={"renderer": "svg", "actions": False})
